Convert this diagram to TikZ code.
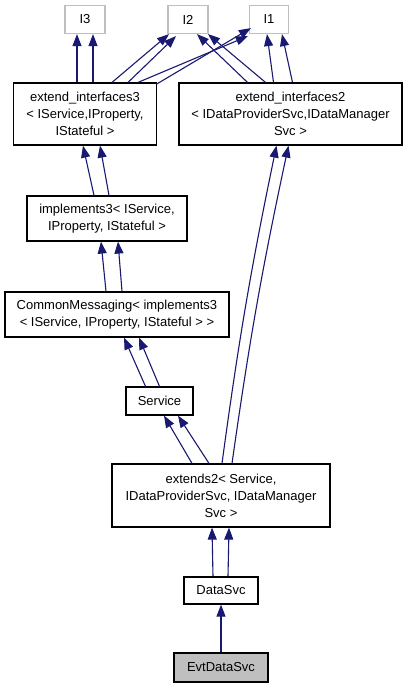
\documentclass[tikz,border=0pt]{standalone}
\usepackage{fontspec}
\setmainfont{Liberation Sans}
\usetikzlibrary{arrows.meta}
\definecolor{ink}{HTML}{000000}
\definecolor{edgeblue}{HTML}{191970}
\definecolor{ifacegray}{HTML}{BFBFBF}
\definecolor{selfill}{HTML}{BFBFBF}
\tikzset{
  every node/.style={font=\fontsize{13}{17}\selectfont},
  cls/.style={draw=ink, line width=1.2pt, fill=white, text=ink, inner sep=0pt,
              align=center},
  iface/.style={cls, draw=ifacegray},
  selcls/.style={cls, fill=selfill},
  inh/.style={-{Triangle[length=12pt, width=9pt]}, line width=1.1pt, draw=edgeblue},
}
\begin{document}
\begin{tikzpicture}[x=1pt, y=-1pt]
\useasboundingbox (0,0) rectangle (407,688);

% --- interfaces ---
\node[iface, minimum width=40pt, minimum height=28pt] (I3) at (85,19.5) {I3};
\node[iface, minimum width=40pt, minimum height=28pt] (I2) at (188,19.5) {I2};
\node[iface, minimum width=39pt, minimum height=28pt] (I1) at (269,19.5) {I1};

% --- classes ---
\node[cls, minimum width=143pt, minimum height=62pt] (ext3) at (85,114)
  {extend\_interfaces3\\< IService,IProperty,\\IStateful >};
\node[cls, minimum width=223pt, minimum height=62pt] (ext2if) at (290.5,114)
  {extend\_interfaces2\\< IDataProviderSvc,IDataManager\\Svc >};
\node[cls, minimum width=160pt, minimum height=45pt] (impl3) at (107,218.5)
  {implements3< IService,\\IProperty, IStateful >};
\node[cls, minimum width=224pt, minimum height=45pt] (cmsg) at (117,314.5)
  {CommonMessaging< implements3\\< IService, IProperty, IStateful > >};
\node[cls, minimum width=67pt, minimum height=28pt] (svc) at (159.5,401) {Service};
\node[cls, minimum width=218pt, minimum height=63pt] (extd2) at (221,495.5)
  {extends2< Service,\\IDataProviderSvc, IDataManager\\Svc >};
\node[cls, minimum width=74pt, minimum height=27pt] (dsvc) at (221,590.5) {DataSvc};
\node[selcls, minimum width=94pt, minimum height=29pt] (evt) at (221,667.5) {EvtDataSvc};

% --- top row edges ---
\draw[inh] ([xshift=-8pt]ext3.north) -- ([xshift=-8pt]I3.south);
\draw[inh] ([xshift=8pt]ext3.north) -- ([xshift=8pt]I3.south);
\draw[inh] ([xshift=27pt]ext3.north) -- ([xshift=-19pt]I2.south);
\draw[inh] ([xshift=43pt]ext3.north) -- ([xshift=-12pt,yshift=-2pt]I2.south);
\draw[inh] ([xshift=53pt]ext3.north) -- ([xshift=-1pt,yshift=-2pt]I1.south west);
\draw[inh] ([xshift=-1pt,yshift=-2pt]ext3.north east) -- ([xshift=2pt,yshift=6pt]I1.south west);
\draw[inh] ([xshift=-43pt]ext2if.north) -- ([xshift=9pt]I2.south);
\draw[inh] ([xshift=-25pt]ext2if.north) -- ([xshift=20pt]I2.south);
\draw[inh] ([xshift=-17pt]ext2if.north) -- ([xshift=-2pt]I1.south);
\draw[inh] ([xshift=2pt]ext2if.north) -- ([xshift=13pt]I1.south);

% --- left column ---
\draw[inh] ([xshift=-13pt]impl3.north) -- ([xshift=-2pt]ext3.south);
\draw[inh] ([xshift=2pt]impl3.north) -- ([xshift=15pt]ext3.south);
\draw[inh] ([xshift=-11pt]cmsg.north) -- ([xshift=-6pt]impl3.south);
\draw[inh] ([xshift=5pt]cmsg.north) -- ([xshift=11pt]impl3.south);
\draw[inh] ([xshift=-14pt]svc.north) -- ([xshift=7pt]cmsg.south);
\draw[inh] ([xshift=0pt]svc.north) -- ([xshift=22pt]cmsg.south);
\draw[inh] ([xshift=-29pt]extd2.north) -- ([xshift=4.5pt]svc.south);
\draw[inh] ([xshift=-12pt]extd2.north) -- ([xshift=18.5pt]svc.south);

% --- long edges to extend_interfaces2 ---
\draw[inh] ([xshift=1pt]extd2.north) to[bend left=2] ([xshift=-14pt]ext2if.south);
\draw[inh] ([xshift=11pt]extd2.north) to[bend left=2] ([xshift=-2pt]ext2if.south);

% --- bottom ---
\draw[inh] ([xshift=-8pt]dsvc.north) -- ([xshift=-9pt]extd2.south);
\draw[inh] ([xshift=7pt]dsvc.north) -- ([xshift=8pt]extd2.south);
\draw[inh] (evt) -- (dsvc);

\end{tikzpicture}
\end{document}
